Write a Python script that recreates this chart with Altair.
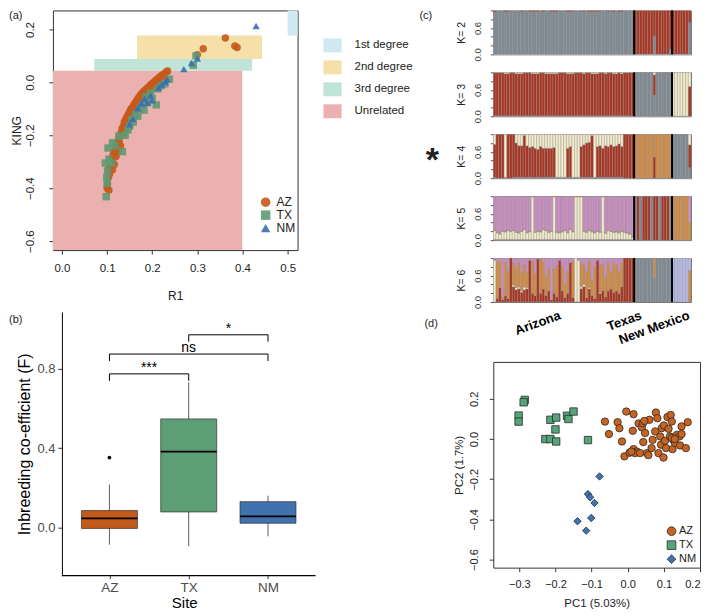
import altair as alt
import pandas as pd

FONT = "Liberation Sans"

# ======================= (a) KING vs R1 =======================
rel_names = ["1st degree", "2nd degree", "3rd degree", "Unrelated"]
rel_colors = ["#CFE8F1", "#F6E0AA", "#C0E4D9", "#EBB1B1"]
rel_r1_lo = [0.5, 0.1664, 0.0716, -0.02]
rel_r1_hi = [0.522, 0.4431, 0.4214, 0.3994]
rel_king_lo = [0.177, 0.0884, 0.0442, -0.634]
rel_king_hi = [0.272, 0.177, 0.0884, 0.0442]

az_r1 = [0.100, 0.104, 0.101, 0.103, 0.106, 0.104, 0.108, 0.110, 0.112, 0.113, 0.115, 0.117,
         0.118, 0.120, 0.121, 0.123, 0.125, 0.127, 0.128, 0.131, 0.133, 0.136, 0.138, 0.141,
         0.144, 0.147, 0.150, 0.153, 0.156, 0.159, 0.162, 0.165, 0.168, 0.171, 0.174, 0.177,
         0.180, 0.184, 0.188, 0.192, 0.196, 0.200, 0.204, 0.208, 0.212, 0.216, 0.220, 0.224,
         0.228, 0.232, 0.234, 0.112, 0.116, 0.120, 0.126, 0.130, 0.135, 0.140, 0.148, 0.155,
         0.163, 0.170, 0.178, 0.186, 0.194, 0.203, 0.212, 0.222,
         0.300, 0.313, 0.362, 0.383, 0.388]
az_king = [-0.400, -0.408, -0.385, -0.360, -0.345, -0.325, -0.310, -0.290, -0.300, -0.275, -0.260, -0.270,
           -0.245, -0.255, -0.230, -0.240, -0.215, -0.225, -0.200, -0.190, -0.175, -0.165, -0.150, -0.140,
           -0.130, -0.120, -0.110, -0.100, -0.095, -0.085, -0.078, -0.070, -0.062, -0.055, -0.048, -0.042,
           -0.035, -0.030, -0.023, -0.017, -0.010, -0.004, 0.002, 0.008, 0.014, 0.020, 0.025, 0.030,
           0.035, 0.040, 0.043, -0.330, -0.310, -0.280, -0.260, -0.240, -0.200, -0.180, -0.150, -0.130,
           -0.105, -0.085, -0.065, -0.050, -0.035, -0.020, -0.005, 0.012,
           0.105, 0.127, 0.168, 0.138, 0.132]
tx_r1 = [0.098, 0.100, 0.099, 0.101, 0.096, 0.102, 0.104, 0.110, 0.112, 0.118, 0.126, 0.134,
         0.140, 0.146, 0.150, 0.155, 0.158, 0.163, 0.168, 0.172, 0.178, 0.182, 0.186, 0.190,
         0.196, 0.200, 0.209, 0.212, 0.220, 0.228, 0.238, 0.291, 0.297]
tx_king = [-0.432, -0.382, -0.360, -0.335, -0.305, -0.248, -0.290, -0.305, -0.228, -0.240, -0.203, -0.262,
           -0.200, -0.180, -0.165, -0.140, -0.150, -0.120, -0.128, -0.100, -0.085, -0.105, -0.055, -0.075,
           -0.040, -0.060, -0.085, -0.025, -0.012, -0.005, 0.012, 0.065, 0.100]
nm_r1 = [0.150, 0.157, 0.168, 0.176, 0.183, 0.189, 0.196, 0.200, 0.214, 0.221, 0.229, 0.233,
         0.270, 0.287, 0.300, 0.430]
nm_king = [-0.158, -0.138, -0.098, -0.080, -0.062, -0.078, -0.050, -0.068, -0.020, -0.008, 0.002, 0.012,
           0.050, 0.073, 0.090, 0.213]

sites = ["AZ", "TX", "NM"]
a_colors = ["#C7591B", "#5E9A73", "#3B6EB1"]
a_shapes = ["circle", "square", "triangle-up"]

# ======================= (b) inbreeding boxplot =======================
box_lo = [-0.086, -0.094, -0.044]
box_q1 = [-0.004, 0.079, 0.022]
box_med = [0.047, 0.383, 0.057]
box_q3 = [0.086, 0.548, 0.131]
box_hi = [0.217, 0.733, 0.161]
b_colors = ["#C25A1C", "#5D9E75", "#3F72AF"]
out_site = ["AZ"]
out_val = [0.353]
br_from = [1, 1, 2]
br_to = [2, 3, 3]
br_y = [0.775, 0.875, 0.972]
br_label = ["***", "ns", "*"]

# ======================= (c) structure plots =======================
pops = ["Arizona", "Texas", "New Mexico"]
pop_sizes = [52, 14, 7]
pop_label_pos = [24.7, 54.6, 72.3]
cl_names = ["grey", "red", "cream", "orange", "pink", "lavender"]
cl_colors = ["#7F8A93", "#AB3420", "#F3ECCB", "#D28B45", "#CB8DC2", "#B9BDEA"]

# K = 2  (grey, red)
k2_grey = ([0.96, 1, 1, 1, 0.97, 0.97, 1, 1, 1, 1,
            0.97, 1, 1, 0.97, 0.97, 0.98, 0.97, 1, 0.97, 1,
            1, 0.97, 0.97, 0.97, 1, 1, 1, 0.97, 0.97, 0.98,
            1, 1, 1, 0.97, 1, 0.97, 0.97, 0.97, 0.97, 0.98,
            1, 1, 0.97, 1, 0.97, 1, 0.97, 0.97, 1, 1,
            1, 1]
           + [0, 0, 0, 0, 0, 0, 0, 0.42, 0, 0, 0, 0, 0, 0.12]
           + [0, 0, 0, 0, 0, 0, 0.72])
# K = 3  (grey, red, cream)
k3_grey = [0.01] * 52 + [1, 1, 1, 1, 1, 1, 1, 0.48, 1, 1, 1, 1, 1, 1] + [0] * 7
k3_cream = ([0.01, 0.01, 0.01, 0.01, 0.03, 0.03, 0.01, 0.01, 0.03, 0.03,
             0.03, 0.01, 0.01, 0.01, 0.03, 0.03, 0.03, 0.01, 0.01, 0.03,
             0.03, 0.03, 0.03, 0.03, 0.01, 0.01, 0.01, 0.03, 0.03, 0.03,
             0.01, 0.01, 0.01, 0.03, 0.01, 0.01, 0.03, 0.03, 0.03, 0.01,
             0.01, 0.03, 0.01, 0.01, 0.03, 0.03, 0.01, 0.03, 0.01, 0.01,
             0.01, 0.01]
            + [0, 0, 0, 0, 0, 0, 0, 0.06, 0, 0, 0, 0, 0, 0]
            + [1, 1, 1, 1, 1, 1, 0.32])
# K = 4  (grey, red, cream, orange)
k4_grey = ([0.02, 0, 0, 0, 0.02, 0, 0, 0.02, 0.02, 0.02,
            0.02, 0.02, 0.02, 0.02, 0.02, 0.02, 0.02, 0.02, 0.02, 0.02,
            0.02, 0.02, 0.02, 0.02, 0.02, 0.02, 0.02, 0.02, 0.02, 0.02,
            0.02, 0.02, 0.02, 0.02, 0.02, 0.02, 0.02, 0.02, 0.02, 0.02,
            0.02, 0.02, 0.02, 0.02, 0.02, 0.02, 0.02, 0.02, 0, 0,
            0, 0]
           + [0] * 14 + [1, 1, 1, 1, 1, 1, 0.24])
k4_red = ([0.75, 1, 1, 1, 0.0, 1, 1, 0.98, 0.78, 0.72,
           0.72, 0.95, 0.72, 0.68, 0.70, 0.66, 0.64, 0.70, 0.66, 0.66,
           0.66, 0.66, 0.68, 0.0, 0.0, 0.0, 0.0, 0.66, 0.70, 0.0,
           0.0, 0.0, 0.70, 0.74, 0.78, 0.80, 0.95, 0.0, 0.70, 0.72,
           0.66, 0.72, 0.70, 0.74, 0.70, 0.72, 0.76, 0.70, 1, 1,
           1, 1]
          + [0, 0, 0, 0, 0, 0, 0, 0.48, 0, 0, 0, 0, 0, 0]
          + [0, 0, 0, 0, 0, 0, 0.52])
k4_orange = [0] * 52 + [1, 1, 1, 1, 1, 1, 1, 0.52, 1, 1, 1, 1, 1, 1] + [0] * 7
# K = 5  (grey, red, cream, orange, pink)
k5_grey = [0] * 52 + [1, 0, 1, 0, 0, 0, 1, 0, 0, 1, 0, 0, 0, 1] + [0] * 7
k5_red = [0.015] * 52 + [0, 1, 0, 1, 1, 1, 0, 1, 1, 0, 1, 1, 1, 0] + [0] * 7
k5_cream = ([0.20, 0.15, 0.12, 0.18, 0.17, 0.20, 0.18, 0.20, 0.16, 0.14,
             0.18, 0.22, 0.15, 0.17, 0.97, 0.16, 0.18, 0.17, 0.22, 0.20,
             0.16, 0.18, 0.97, 0.16, 0.15, 0.17, 0.20, 0.15, 0.22, 0.17,
             0.97, 0.97, 0.97, 0.18, 0.16, 0.20, 0.17, 0.15, 0.18, 0.16,
             0.97, 0.14, 0.20, 0.18, 0.16, 0.17, 0.15, 0.18, 0.16, 0.14,
             0.12, 0.05]
            + [0] * 14 + [0] * 7)
k5_orange = [0.02] * 52 + [0] * 14 + [1, 1, 1, 1, 1, 1, 0.42]
# K = 6  (grey, red, cream, orange, pink, lavender)
k6_grey = [0] * 52 + [1, 1, 1, 1, 1, 1, 1, 0.55, 1, 1, 1, 1, 1, 1] + [0] * 7
k6_red = ([0.0, 0.08, 0.33, 0.05, 0.15, 0.08, 1.0, 0.35, 0.28, 0.30,
           0.22, 0.28, 0.30, 0.95, 0.20, 0.15, 0.98, 0.20, 0.30, 0.15,
           0.25, 0.05, 0.20, 0.12, 0.95, 0.25, 0.10, 0.20, 0.90, 0.10,
           0.0, 0.0, 0.30, 0.35, 0.10, 0.30, 0.15, 0.08, 0.95, 0.20,
           0.25, 0.12, 0.25, 0.30, 0.22, 0.25, 0.20, 0.35, 1, 1,
           1, 1]
          + [0] * 14 + [0] * 7)
k6_cream = ([0.95, 0, 0, 0, 0, 0, 0, 0.04, 0.05, 0.04,
             0.03, 0.06, 0.03, 0, 0, 0, 0, 0, 0, 0,
             0, 0, 0, 0, 0, 0, 0, 0, 0, 0,
             1.0, 0.95, 0.05, 0.05, 0, 0.03, 0, 0, 0, 0.03,
             0, 0, 0, 0, 0, 0, 0, 0, 0, 0,
             0, 0]
            + [0] * 14 + [0] * 7)
k6_orange = ([0, 0.85, 0.60, 0.05, 0.75, 0.62, 0, 0.50, 0.45, 0.56,
              0.43, 0.50, 0.35, 0, 0.72, 0.50, 0, 0.78, 0.62, 0.45,
              0.50, 0, 0.55, 0.70, 0, 0.55, 0.30, 0.50, 0, 0.82,
              0, 0, 0.55, 0.45, 0.60, 0.60, 0.35, 0.72, 0, 0.62,
              0.60, 0.45, 0.65, 0.40, 0.68, 0.60, 0.50, 0.55, 0, 0,
              0, 0]
             + [0, 0, 0, 0, 0, 0, 0, 0.45, 0, 0, 0, 0, 0, 0]
             + [0, 0, 0, 0, 0, 0, 0.72])
k6_lavender = [0] * 52 + [0] * 14 + [1, 1, 1, 1, 1, 1, 0.28]

# ======================= (d) PCA =======================
d_az_pc1 = [-0.063, -0.052, -0.028, -0.023, -0.016, -0.009, -0.004, 0.016, 0.014, 0.016, 0.025, 0.020,
            0.030, 0.034, 0.039, 0.042, 0.043, 0.048, 0.053, 0.057, 0.060, 0.066, 0.069, 0.076,
            0.078, 0.082, 0.085, 0.090, 0.092, 0.094, 0.099, 0.100, 0.103, 0.106, 0.110, 0.113,
            0.117, 0.119, 0.122, 0.124, 0.126, 0.131, 0.136, 0.143, 0.145, 0.149, 0.149, 0.161,
            0.166, 0.046, 0.005, 0.010, 0.122, 0.130]
d_az_pc2 = [0.087, 0.025, 0.084, 0.054, -0.012, -0.086, 0.137, 0.124, 0.041, -0.050, -0.062, -0.070,
            0.078, -0.070, 0.058, 0.079, -0.015, 0.030, -0.070, -0.080, 0.096, -0.045, -0.004, 0.038,
            0.132, 0.104, -0.070, 0.013, -0.028, 0.054, -0.092, 0.068, -0.009, -0.045, 0.110, 0.051,
            0.013, 0.120, 0.087, -0.050, -0.004, -0.020, 0.021, 0.013, -0.032, 0.063, 0.025, -0.045,
            0.084, 0.090, -0.068, -0.063, 0.005, 0.000]
d_tx_pc1 = [-0.285, -0.288, -0.302, -0.302, -0.214, -0.198, -0.200, -0.228, -0.214, -0.198,
            -0.168, -0.164, -0.150, -0.110]
d_tx_pc2 = [0.195, 0.183, 0.117, 0.087, 0.096, 0.107, 0.048, 0.000, 0.000, -0.012,
            0.116, 0.100, 0.137, -0.005]
d_nm_pc1 = [-0.078, -0.110, -0.104, -0.092, -0.101, -0.139, -0.115]
d_nm_pc2 = [-0.186, -0.274, -0.290, -0.318, -0.393, -0.409, -0.456]
d_colors = ["#C8641F", "#55A57B", "#3D74B7"]
d_shapes = ["circle", "square", "diamond"]

# ------------------------------------------------------------------
N_IND = sum(pop_sizes)
TXT = "#222222"


def label_layer(text, x, y, size=11, weight="normal", align="left", baseline="middle"):
    return alt.Chart(pd.DataFrame({"t": [text]})).mark_text(
        align=align, baseline=baseline, fontSize=size, fontWeight=weight, color=TXT, font=FONT
    ).encode(text="t:N", x=alt.value(x), y=alt.value(y))


# ---------- panel (a)
rel_df = pd.DataFrame({"rel": rel_names, "x1": rel_r1_lo, "x2": rel_r1_hi,
                       "y1": rel_king_lo, "y2": rel_king_hi})
pts_a = pd.concat([
    pd.DataFrame({"site": "AZ", "r1": az_r1, "king": az_king}),
    pd.DataFrame({"site": "TX", "r1": tx_r1, "king": tx_king}),
    pd.DataFrame({"site": "NM", "r1": nm_r1, "king": nm_king}),
], ignore_index=True)

ax_a_x = alt.Axis(values=[0, 0.1, 0.2, 0.3, 0.4, 0.5], format=".1f", domain=False, grid=False,
                  tickSize=4, tickColor="#333", labelFontSize=11.5, labelColor=TXT, labelPadding=8,
                  labelFlush=False, title="R1", titleFontSize=12, titleFontWeight="normal",
                  titleColor=TXT, titlePadding=17)
ax_a_y = alt.Axis(values=[-0.6, -0.4, -0.2, 0, 0.2], format=".1f", domain=False, grid=False,
                  tickSize=4, tickColor="#333", labelFontSize=11.5, labelColor=TXT, labelAngle=270,
                  labelAlign="center", labelBaseline="bottom", labelPadding=13, labelFlush=False,
                  title="KING", titleFontSize=12, titleFontWeight="normal", titleColor=TXT,
                  titlePadding=1)
sx_a = alt.Scale(domain=[-0.02, 0.522], nice=False, zero=False)
sy_a = alt.Scale(domain=[-0.634, 0.272], nice=False, zero=False)

rects_a = alt.Chart(rel_df).mark_rect().encode(
    x=alt.X("x1:Q", scale=sx_a, axis=ax_a_x), x2="x2:Q",
    y=alt.Y("y1:Q", scale=sy_a, axis=ax_a_y), y2="y2:Q",
    fill=alt.Fill("rel:N", scale=alt.Scale(domain=rel_names, range=rel_colors),
                  legend=alt.Legend(orient="none", legendX=273, legendY=28, title=None,
                                    symbolType="M-1.3,-1H1.3V1H-1.3Z", symbolSize=196,
                                    symbolStrokeWidth=0, labelFontSize=11.5, labelColor=TXT,
                                    labelOffset=15, rowPadding=8, labelFont=FONT)),
)
points_a = alt.Chart(pts_a).mark_point(filled=True, size=55, opacity=0.9).encode(
    x=alt.X("r1:Q", scale=sx_a, axis=ax_a_x),
    y=alt.Y("king:Q", scale=sy_a, axis=ax_a_y),
    color=alt.Color("site:N", scale=alt.Scale(domain=sites, range=a_colors),
                    legend=alt.Legend(orient="none", legendX=207, legendY=186, title=None,
                                      labelFontSize=12, labelColor=TXT, symbolSize=90,
                                      labelOffset=5, rowPadding=1, labelFont=FONT,
                                      symbolStrokeWidth=0)),
    shape=alt.Shape("site:N", scale=alt.Scale(domain=sites, range=a_shapes)),
)
panel_a = alt.layer(rects_a, points_a, label_layer("(a)", -44, 6)).properties(
    width=245, height=240, view=alt.ViewBackground(stroke="#333333", strokeWidth=1))

# ---------- panel (b)
BOX_HALF = 0.353
box_df = pd.DataFrame({"site": sites, "pos": [1, 2, 3], "lo": box_lo, "q1": box_q1,
                       "med": box_med, "q3": box_q3, "hi": box_hi})
box_df["xl"] = box_df["pos"] - BOX_HALF
box_df["xr"] = box_df["pos"] + BOX_HALF
out_df = pd.DataFrame({"site": out_site, "val": out_val})
out_df["pos"] = [sites.index(s) + 1 for s in out_site]
br_df = pd.DataFrame({"a": br_from, "b": br_to, "y": br_y, "lab": br_label})
br_df["mid"] = (br_df["a"] + br_df["b"]) / 2
TIP = 0.035
tips_df = pd.DataFrame({"x": br_from + br_to, "y": br_y + br_y})
tips_df["y2"] = tips_df["y"] - TIP

B_Y_MIN, B_Y_MAX = -0.242, 1.087
sx_b = alt.Scale(domain=[0.2875, 3.6], nice=False, zero=False)
sy_b = alt.Scale(domain=[B_Y_MIN, B_Y_MAX], nice=False, zero=False)
lab_expr = " : ".join(f"datum.value == {i + 1} ? '{s}'" for i, s in enumerate(sites)) + " : ''"
ax_b_x = alt.Axis(values=[1, 2, 3], labelExpr=lab_expr, domain=False, grid=False, tickSize=3,
                  tickColor="#333", labelFontSize=13.5, labelColor="#4D4D4D", labelPadding=2,
                  title="Site", titleFontSize=15, titleFontWeight="normal", titleColor="black",
                  titlePadding=1)
ax_b_y = alt.Axis(values=[0, 0.4, 0.8], format=".1f", domain=True, domainColor="black",
                  domainWidth=1, grid=False, tickSize=4, tickColor="#333", labelFontSize=13,
                  labelColor="#4D4D4D", labelPadding=3, offset=-9,
                  title="Inbreeding co-efficient (F)", titleFontSize=16,
                  titleFontWeight="normal", titleColor="black", titlePadding=4)

whisk = alt.Chart(box_df).mark_rule(color="#333333", strokeWidth=0.8).encode(
    x=alt.X("pos:Q", scale=sx_b, axis=ax_b_x), y=alt.Y("lo:Q", scale=sy_b, axis=ax_b_y), y2="hi:Q")
boxes = alt.Chart(box_df).mark_rect(stroke="#333333", strokeWidth=0.7).encode(
    x=alt.X("xl:Q", scale=sx_b, axis=ax_b_x), x2="xr:Q",
    y=alt.Y("q1:Q", scale=sy_b, axis=ax_b_y), y2="q3:Q",
    fill=alt.Fill("site:N", scale=alt.Scale(domain=sites, range=b_colors), legend=None))
medians = alt.Chart(box_df).mark_rule(color="black", strokeWidth=1.7).encode(
    x=alt.X("xl:Q", scale=sx_b, axis=ax_b_x), x2="xr:Q", y=alt.Y("med:Q", scale=sy_b, axis=ax_b_y))
outl = alt.Chart(out_df).mark_circle(size=14, color="black", opacity=1).encode(
    x=alt.X("pos:Q", scale=sx_b, axis=ax_b_x), y=alt.Y("val:Q", scale=sy_b, axis=ax_b_y))
br_h = alt.Chart(br_df).mark_rule(color="black", strokeWidth=1).encode(
    x=alt.X("a:Q", scale=sx_b, axis=ax_b_x), x2="b:Q", y=alt.Y("y:Q", scale=sy_b, axis=ax_b_y))
br_v = alt.Chart(tips_df).mark_rule(color="black", strokeWidth=1).encode(
    x=alt.X("x:Q", scale=sx_b, axis=ax_b_x), y=alt.Y("y:Q", scale=sy_b, axis=ax_b_y), y2="y2:Q")
br_t = alt.Chart(br_df).mark_text(fontSize=14, color="black", baseline="alphabetic", dy=-2,
                                  font=FONT).encode(
    x=alt.X("mid:Q", scale=sx_b, axis=ax_b_x), y=alt.Y("y:Q", scale=sy_b, axis=ax_b_y), text="lab:N")
xline_df = pd.DataFrame({"x": [0.4], "x2": [3.6], "y": [B_Y_MIN]})
xline = alt.Chart(xline_df).mark_rule(color="black", strokeWidth=1.2).encode(
    x=alt.X("x:Q", scale=sx_b, axis=ax_b_x), x2="x2:Q", y=alt.Y("y:Q", scale=sy_b, axis=ax_b_y))
panel_b = alt.layer(whisk, boxes, medians, outl, br_h, br_v, br_t, xline,
                    label_layer("(b)", -44, 8)).properties(width=263, height=264)


# ---------- panel (c)
def stack_df(columns):
    rows = []
    for i in range(N_IND):
        y = 0.0
        for name, vals in columns:
            v = vals[i]
            if v > 0:
                rows.append({"x0": i, "x1": i + 1, "y0": y, "y1": min(1.0, y + v), "cl": name})
            y += v
    return pd.DataFrame(rows)


def remainder(*lists):
    return [max(0.0, 1.0 - sum(vals)) for vals in zip(*lists)]


k_sets = {
    2: [("grey", k2_grey), ("red", remainder(k2_grey))],
    3: [("grey", k3_grey), ("red", remainder(k3_grey, k3_cream)), ("cream", k3_cream)],
    4: [("grey", k4_grey), ("red", k4_red), ("cream", remainder(k4_grey, k4_red, k4_orange)),
        ("orange", k4_orange)],
    5: [("grey", k5_grey), ("red", k5_red), ("cream", k5_cream), ("orange", k5_orange),
        ("pink", remainder(k5_grey, k5_red, k5_cream, k5_orange))],
    6: [("grey", k6_grey), ("red", k6_red), ("cream", k6_cream), ("orange", k6_orange),
        ("pink", remainder(k6_grey, k6_red, k6_cream, k6_orange, k6_lavender)),
        ("lavender", k6_lavender)],
}

bounds_pos = [pop_sizes[0], pop_sizes[0] + pop_sizes[1]]
sep_df = pd.DataFrame({"pos": bounds_pos})
sx_c = alt.Scale(domain=[0, N_IND], nice=False, zero=False)
sy_c = alt.Scale(domain=[0, 1], nice=False, zero=False)


def kchart(k, extra=None):
    ax = alt.Axis(values=[0, 0.2, 0.4, 0.6, 0.8, 1.0],
                  labelExpr="datum.value == 0 ? '0.0' : (datum.value == 0.6 ? '0.6' : '')",
                  labelAngle=270, labelAlign="center", labelBaseline="bottom", labelFlush=False,
                  labelFontSize=9.5, labelColor="#333", labelPadding=8, tickSize=3,
                  tickColor="#555", domain=False, grid=False, title=f"K= {k}",
                  titleFontSize=10.5, titleFontWeight="normal", titleColor=TXT, titlePadding=6)
    bars = alt.Chart(stack_df(k_sets[k])).mark_rect(stroke="#8C8C8C", strokeWidth=0.4,
                                                     clip=True).encode(
        x=alt.X("x0:Q", scale=sx_c, axis=None), x2="x1:Q",
        y=alt.Y("y0:Q", scale=sy_c, axis=ax), y2="y1:Q",
        fill=alt.Fill("cl:N", scale=alt.Scale(domain=cl_names, range=cl_colors), legend=None))
    seps = alt.Chart(sep_df).mark_rule(color="black", strokeWidth=2).encode(
        x=alt.X("pos:Q", scale=sx_c, axis=None))
    layers = [bars, seps] + (extra or [])
    return alt.layer(*layers).properties(
        width=198, height=44, view=alt.ViewBackground(stroke="#7A7A7A", strokeWidth=1))


k_panels = [
    kchart(2, [label_layer("(c)", -74, 6)]),
    kchart(3),
    kchart(4, [label_layer("*", -61, 37, size=34, weight="bold", align="center",
                           baseline="alphabetic")]),
    kchart(5),
    kchart(6),
]

pop_df = pd.DataFrame({"pop": pops, "pos": pop_label_pos})
pop_labels = alt.Chart(pop_df).mark_text(angle=340, align="right", baseline="middle", fontSize=13,
                                         fontWeight="bold", color="black", font=FONT).encode(
    x=alt.X("pos:Q", scale=sx_c, axis=None), y=alt.value(-5), text="pop:N"
).properties(width=198, height=24)

# ---------- panel (d)
pts_d = pd.concat([
    pd.DataFrame({"site": "AZ", "pc1": d_az_pc1, "pc2": d_az_pc2}),
    pd.DataFrame({"site": "TX", "pc1": d_tx_pc1, "pc2": d_tx_pc2}),
    pd.DataFrame({"site": "NM", "pc1": d_nm_pc1, "pc2": d_nm_pc2}),
], ignore_index=True)
ax_d_x = alt.Axis(values=[-0.3, -0.2, -0.1, 0.0, 0.1, 0.2], format=".1f", domain=False, grid=False,
                  tickSize=4, tickColor="#333", labelFontSize=11, labelColor=TXT, labelPadding=7,
                  labelFlush=True, title="PC1 (5.03%)", titleFontSize=11.5,
                  titleFontWeight="normal", titleColor=TXT, titlePadding=8)
ax_d_y = alt.Axis(values=[-0.6, -0.4, -0.2, 0.0, 0.2], format=".1f", domain=False, grid=False,
                  tickSize=4, tickColor="#333", labelFontSize=11, labelColor=TXT, labelAngle=270,
                  labelAlign="center", labelBaseline="bottom", labelPadding=10, labelFlush=False,
                  title="PC2 (1.7%)", titleFontSize=11.5, titleFontWeight="normal",
                  titleColor=TXT, titlePadding=4)
pts_layer_d = alt.Chart(pts_d).mark_point(filled=True, size=55, stroke="#2A2A2A", strokeWidth=0.8,
                                          opacity=1).encode(
    x=alt.X("pc1:Q", scale=alt.Scale(domain=[-0.372, 0.2], nice=False, zero=False), axis=ax_d_x),
    y=alt.Y("pc2:Q", scale=alt.Scale(domain=[-0.64, 0.384], nice=False, zero=False), axis=ax_d_y),
    fill=alt.Fill("site:N", scale=alt.Scale(domain=sites, range=d_colors),
                  legend=alt.Legend(orient="none", legendX=173, legendY=164, title=None,
                                    labelFontSize=11, labelColor=TXT, symbolSize=75,
                                    labelOffset=2, rowPadding=1, labelFont=FONT,
                                    symbolStrokeColor="#2A2A2A", symbolStrokeWidth=0.8)),
    shape=alt.Shape("site:N", scale=alt.Scale(domain=sites, range=d_shapes)),
)
panel_d = alt.layer(pts_layer_d, label_layer("(d)", -69, -38)).properties(
    width=207, height=206, view=alt.ViewBackground(stroke="#333333", strokeWidth=1))

# ---------- assemble
IND = dict(color="independent", fill="independent", shape="independent")
left = alt.vconcat(panel_a, panel_b, spacing=62, bounds="flush").resolve_scale(**IND)
right = alt.vconcat(*k_panels, pop_labels, panel_d, spacing=18, bounds="flush").resolve_scale(**IND)
# with flush bounds the nested left column counts as zero width, so the gap is the full offset
chart = alt.hconcat(left, right, spacing=441, bounds="flush").resolve_scale(**IND).properties(
    padding=0
).configure(font=FONT).configure_view(strokeWidth=0)

chart.save("out.html", embed_options={"renderer": "svg", "actions": False})
